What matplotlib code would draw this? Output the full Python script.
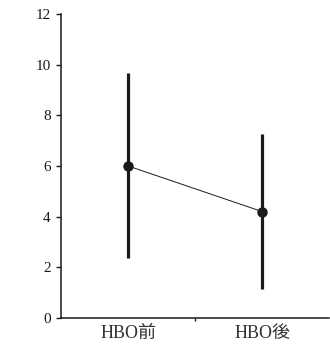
import matplotlib.pyplot as plt
import numpy as np

plt.rcParams['font.family'] = ['Liberation Serif', 'Noto Sans CJK JP']

# data
groups = ['HBO前', 'HBO後']
means = [6.0, 4.2]
errs = [3.65, 3.07]

pos = np.array([0.5, 1.5])
ink = '#1a1a1a'

fig = plt.figure(figsize=(3.3, 3.49), dpi=100)
ax = fig.add_axes([0.185, 0.089, 0.812, 0.871])

ax.plot(pos, means, color=ink, lw=0.7, zorder=2)
ax.errorbar(pos, means, yerr=errs, fmt='o', color=ink, ms=6.5,
            elinewidth=2.3, capsize=0, zorder=3)

ax.set_xlim(0, 2)
ax.set_ylim(0, 12)
ax.set_yticks(range(0, 13, 2))
ax.tick_params(axis='y', labelsize=11, length=3.5, width=1.0, colors=ink, pad=4)

ax.set_xticks(pos)
ax.set_xticklabels(groups, fontsize=13)
ax.tick_params(axis='x', length=0, pad=5, colors='#333333')
ax.set_xticks([1.0], minor=True)
ax.tick_params(axis='x', which='minor', length=2.5, width=1.0, color=ink)

for s in ['top', 'right']:
    ax.spines[s].set_visible(False)
for s in ['left', 'bottom']:
    ax.spines[s].set_linewidth(1.1)
    ax.spines[s].set_color(ink)

fig.savefig('out.png', dpi=100)
